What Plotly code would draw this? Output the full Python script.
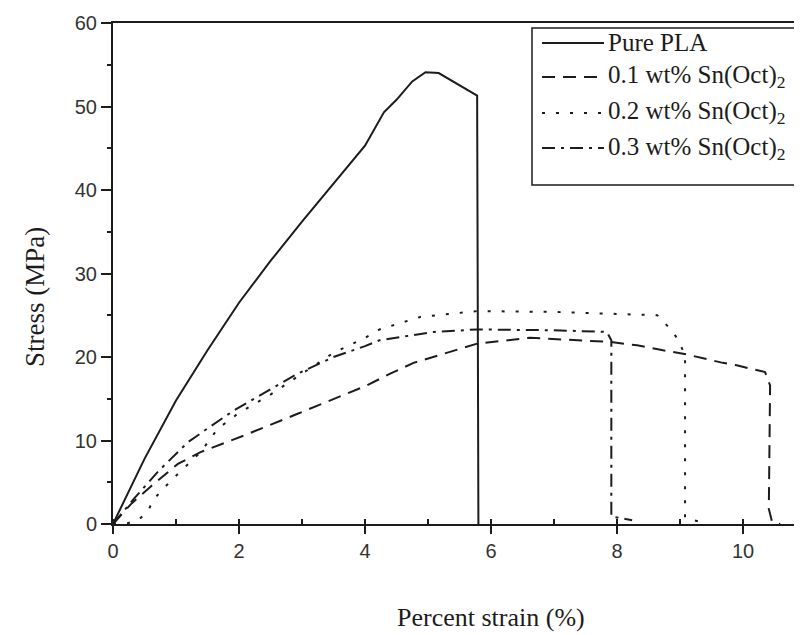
import plotly.graph_objects as go

# ---- data ----
pla_strain = [0, 0.5, 1.0, 1.5, 2.0, 2.5, 3.0, 3.5, 4.0, 4.3, 4.5, 4.75, 4.96, 5.17, 5.78, 5.8]
pla_stress = [0, 7.8, 14.8, 20.8, 26.5, 31.5, 36.2, 40.8, 45.3, 49.3, 50.8, 53.0, 54.1, 54.0, 51.3, 0]

s01_strain = [0, 0.3, 0.6, 1.03, 1.39, 2.08, 2.93, 3.5, 4.0, 4.4, 4.77, 5.78, 6.62, 7.9, 8.32,
              8.73, 9.05, 9.68, 9.9, 10.35, 10.43, 10.41, 10.46, 10.59]
s01_stress = [0, 2.5, 4.5, 7.2, 8.6, 10.6, 13.2, 15.0, 16.5, 18.0, 19.3, 21.6, 22.3, 21.8, 21.4,
              20.8, 20.4, 19.3, 19.0, 18.2, 16.6, 1.8, 0.3, 0]

s02_strain = [0, 0.24, 0.42, 0.55, 0.65, 0.92, 1.39, 1.66, 1.98, 2.5, 3.0, 3.5, 4.0, 4.23, 4.88,
              5.78, 7.0, 8.64, 8.84, 8.97, 9.08, 9.08, 9.35]
s02_stress = [0, 0.1, 0.6, 1.5, 3.0, 5.2, 8.6, 11.4, 13.2, 15.5, 18.0, 20.5, 22.3, 23.3, 24.8,
              25.5, 25.4, 25.0, 23.4, 22.1, 20.2, 0.7, 0.2]

s03_strain = [0, 0.33, 0.73, 1.19, 1.55, 1.92, 2.93, 3.5, 4.0, 4.23, 5.09, 5.78, 7.0, 7.84, 7.91,
              7.91, 8.24]
s03_stress = [0, 3.0, 6.4, 9.8, 11.7, 13.6, 18.0, 20.0, 21.3, 22.0, 23.0, 23.3, 23.2, 23.0, 22.0,
              0.9, 0.45]

names = ["Pure PLA", "0.1 wt% Sn(Oct)<sub>2</sub>", "0.2 wt% Sn(Oct)<sub>2</sub>",
         "0.3 wt% Sn(Oct)<sub>2</sub>"]
x_ticks = [0, 2, 4, 6, 8, 10]
y_ticks = [0, 10, 20, 30, 40, 50, 60]
x_title = "Percent strain (%)"
y_title = "Stress (MPa)"

ink = "#1c1c1c"
dashes = ["solid", "13px,8px", "3px,11px", "13px,6px,3px,6px"]
series = [(pla_strain, pla_stress), (s01_strain, s01_stress),
          (s02_strain, s02_stress), (s03_strain, s03_stress)]

W, H = 802, 635
L, R, T, B = 105, 0, 15, 119
PW, PH = W - L - R, H - T - B


def px(fx):
    return (fx - L) / PW


def py(fy):
    return (H - B - fy) / PH


fig = go.Figure()
for (xs, ys), dash, name in zip(series, dashes, names):
    fig.add_trace(go.Scatter(x=xs, y=ys, mode="lines", name=name, showlegend=False,
                             line=dict(color=ink, width=2, dash=dash)))

# legend box drawn in paper space (long line samples as in the reference)
shapes = [dict(type="rect", xref="paper", yref="paper",
               x0=px(524), x1=px(W + 20), y0=py(177), y1=py(20),
               line=dict(color=ink, width=1.5), fillcolor="white", layer="above")]
annotations = []
row_y = [35, 69, 105, 140]
for fy, dash, name in zip(row_y, dashes, names):
    shapes.append(dict(type="line", xref="paper", yref="paper",
                       x0=px(534), x1=px(596), y0=py(fy), y1=py(fy),
                       line=dict(color=ink, width=2, dash=dash), layer="above"))
    annotations.append(dict(text=name, xref="paper", yref="paper", x=px(598), y=py(fy),
                            xanchor="left", yanchor="middle", showarrow=False,
                            font=dict(family="Liberation Serif", size=25, color=ink)))

annotations.append(dict(text=x_title, xref="paper", yref="paper", x=px(483), y=py(609),
                        xanchor="center", yanchor="middle", showarrow=False,
                        font=dict(family="Liberation Serif", size=26, color=ink)))
annotations.append(dict(text=y_title, xref="paper", yref="paper", x=px(27), y=py(289),
                        xanchor="center", yanchor="middle", showarrow=False, textangle=-90,
                        font=dict(family="Liberation Serif", size=27, color=ink)))

fig.update_layout(
    width=W, height=H,
    margin=dict(l=L, r=R, t=T, b=B),
    paper_bgcolor="white", plot_bgcolor="white",
    showlegend=False,
    shapes=shapes, annotations=annotations,
    font=dict(family="Liberation Sans", color=ink),
)
fig.update_xaxes(
    range=[0, PW / 63.0], tickvals=x_ticks, ticktext=[str(v) for v in x_ticks],
    showgrid=False, zeroline=False, showline=True, linecolor=ink, linewidth=2,
    mirror=True, ticks="outside", ticklen=8, tickwidth=1.5, tickcolor=ink,
    tickfont=dict(family="Liberation Sans", size=20, color="#333"),
    minor=dict(ticks="inside", ticklen=5, tickwidth=1.5, tickcolor=ink, dtick=1, tick0=0),
    automargin=False,
)
fig.update_yaxes(
    range=[0, 60], tickvals=y_ticks, ticktext=[str(v) for v in y_ticks],
    showgrid=False, zeroline=False, showline=True, linecolor=ink, linewidth=2,
    ticks="outside", ticklen=10, tickwidth=1.5, tickcolor=ink,
    tickfont=dict(family="Liberation Sans", size=20, color="#333"),
    minor=dict(ticks="outside", ticklen=4, tickwidth=1.5, tickcolor=ink, dtick=5, tick0=0),
    automargin=False,
)

fig.write_html("out.html")
